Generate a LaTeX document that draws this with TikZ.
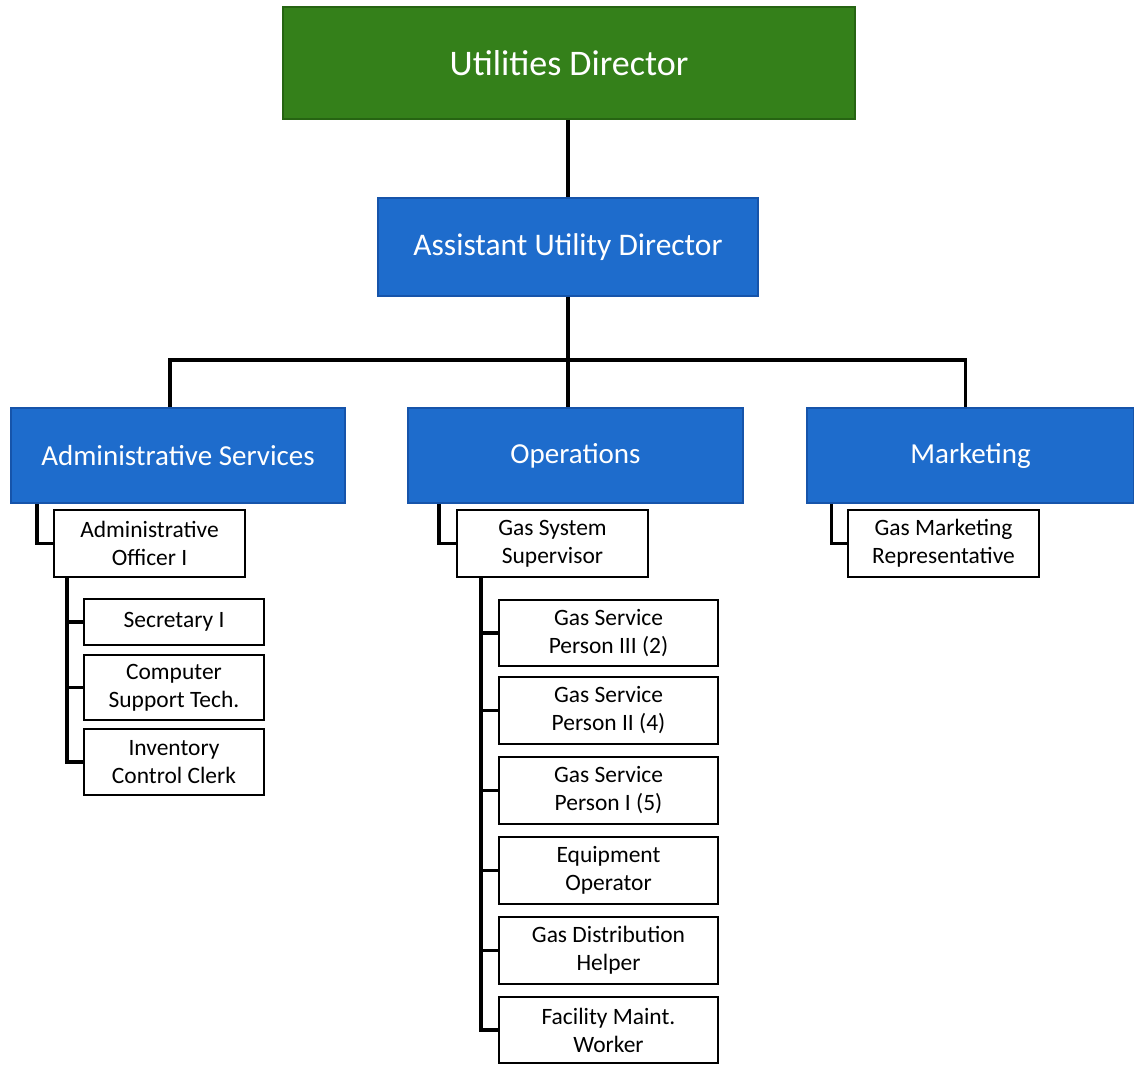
\documentclass[tikz,border=0pt]{standalone}
\usepackage{fontspec}
\setmainfont{Carlito}
\usetikzlibrary{calc}
\definecolor{udgreen}{RGB}{52,128,26}
\definecolor{udgreenedge}{RGB}{38,100,18}
\definecolor{hdblue}{RGB}{30,108,204}
\definecolor{hdblueedge}{RGB}{22,84,170}
\begin{document}
\begin{tikzpicture}[x=0.75pt,y=-0.75pt,
  topbox/.style={rectangle, inner sep=0pt, fill=udgreen, draw=udgreenedge, line width=1.2pt, text=white, font=\fontsize{27}{32}\selectfont},
  headbox/.style={rectangle, inner sep=0pt, fill=hdblue, draw=hdblueedge, line width=1.2pt, text=white, font=\fontsize{21.75}{26}\selectfont},
  subbox/.style={rectangle, inner sep=0pt, fill=white, draw=black, line width=1.6pt, align=center, font=\fontsize{17.6}{21}\selectfont},
  link/.style={draw=black, line width=2.6pt}
]
\useasboundingbox (0,0) rectangle (1134,1064);
\coordinate (bus) at (568,360);
% top levels
\node[topbox, minimum width=429pt, minimum height=84pt] (ud) at (569,63) {Utilities Director};
\node[headbox, minimum width=285pt, minimum height=73.5pt, font=\fontsize{23.6}{28}\selectfont] (aud) at (568,247) {Assistant Utility Director};
% departments
\node[headbox, minimum width=250.5pt, minimum height=71.25pt] (adm) at (178,455.5) {Administrative Services};
\node[headbox, minimum width=251.25pt, minimum height=71.25pt] (ops) at (575.5,455.5) {Operations};
\node[headbox, minimum width=245pt, minimum height=71.25pt] (mkt) at (970.5,455.5) {Marketing};
% admin
\node[subbox, minimum width=143.25pt, minimum height=50.25pt] (ao) at (149.5,543.5) {Administrative\\Officer I};
\node[subbox, minimum width=135pt, minimum height=34.5pt] (sec) at (174,622) {Secretary I};
\node[subbox, minimum width=135pt, minimum height=48.75pt] (cst) at (174,687.5) {Computer\\Support Tech.};
\node[subbox, minimum width=135pt, minimum height=49.5pt] (icc) at (174,762) {Inventory\\Control Clerk};
% operations
\node[subbox, minimum width=143.25pt, minimum height=50.25pt] (gss) at (552.5,543.5) {Gas System\\Supervisor};
\node[subbox, minimum width=164.25pt, minimum height=49.5pt] (gs3) at (608.5,633) {Gas Service\\Person III (2)};
\node[subbox, minimum width=164.25pt, minimum height=50.25pt] (gs2) at (608.5,710.5) {Gas Service\\Person II (4)};
\node[subbox, minimum width=164.25pt, minimum height=50.25pt] (gs1) at (608.5,790.5) {Gas Service\\Person I (5)};
\node[subbox, minimum width=164.25pt, minimum height=50.25pt] (eqo) at (608.5,870.5) {Equipment\\Operator};
\node[subbox, minimum width=164.25pt, minimum height=50.25pt] (gdh) at (608.5,950.5) {Gas Distribution\\Helper};
\node[subbox, minimum width=164.25pt, minimum height=49.5pt] (fmw) at (608.5,1030) {Facility Maint.\\Worker};
% marketing
\node[subbox, minimum width=143.25pt, minimum height=50.25pt] (gmr) at (943.5,543.5) {Gas Marketing\\Representative};
% connectors
\draw[link] (ud.south -| aud.north) -- (aud.north);
\draw[link] (aud.south) -- (bus);
\draw[link] (bus) -- (ops.north -| bus);
\draw[link] ($(adm.north)+(-8,0)$) |- (bus);
\draw[link] ($(mkt.north)+(-5,0)$) |- (bus);
\draw[link] ($(adm.south west)+(27,0)$) |- (ao.west);
\draw[link] ($(ao.south west)+(14,0)$) |- (sec.west);
\draw[link] ($(ao.south west)+(14,0)$) |- (cst.west);
\draw[link] ($(ao.south west)+(14,0)$) |- (icc.west);
\draw[link] ($(ops.south west)+(32,0)$) |- (gss.west);
\draw[link] ($(gss.south west)+(25,0)$) |- (gs3.west);
\draw[link] ($(gss.south west)+(25,0)$) |- (gs2.west);
\draw[link] ($(gss.south west)+(25,0)$) |- (gs1.west);
\draw[link] ($(gss.south west)+(25,0)$) |- (eqo.west);
\draw[link] ($(gss.south west)+(25,0)$) |- (gdh.west);
\draw[link] ($(gss.south west)+(25,0)$) |- (fmw.west);
\draw[link] ($(mkt.south west)+(25,0)$) |- (gmr.west);
\end{tikzpicture}
\end{document}
